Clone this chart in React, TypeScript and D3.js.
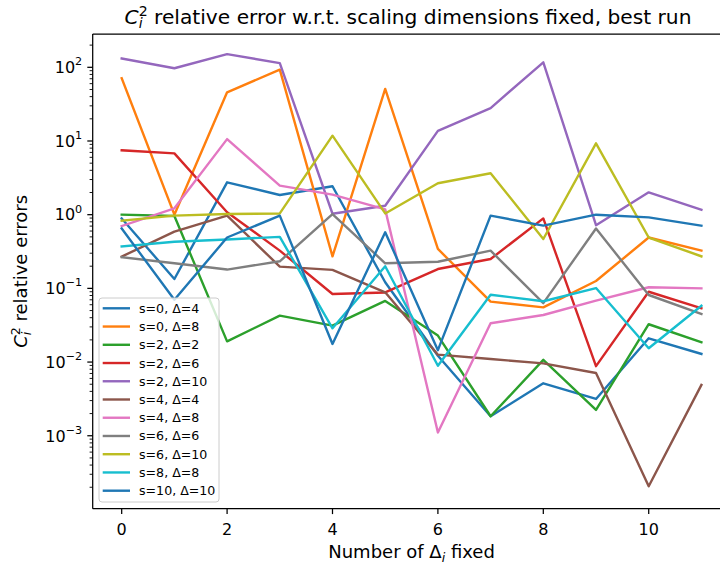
import React from 'react'
import * as d3 from 'd3'

// number of Delta_i fixed
const steps = [0, 1, 2, 3, 4, 5, 6, 7, 8, 9, 10, 11]

const seriesLabels = [
    's=0, Δ=4', 's=0, Δ=8', 's=2, Δ=2', 's=2, Δ=6', 's=2, Δ=10', 's=4, Δ=4',
    's=4, Δ=8', 's=6, Δ=6', 's=6, Δ=10', 's=8, Δ=8', 's=10, Δ=10',
]

const s0d4 = [0.89, 0.134, 2.75, 1.85, 2.43, 0.121, 0.0122, 0.00184, 0.00515, 0.00316, 0.021, 0.0129]
const s0d8 = [71, 1.0, 45.8, 93, 0.272, 50.8, 0.343, 0.066, 0.0553, 0.126, 0.49, 0.325]
const s2d2 = [1.0, 0.96, 0.0191, 0.0426, 0.0312, 0.0675, 0.0229, 0.00184, 0.0107, 0.00224, 0.0326, 0.0186]
const s2d6 = [7.48, 6.8, 1.08, 0.325, 0.084, 0.088, 0.183, 0.25, 0.89, 0.0088, 0.09, 0.0537]
const s2d10 = [132, 97, 151, 114, 1.03, 1.32, 13.7, 28, 117, 0.72, 2.01, 1.17]
const s4d4 = [0.27, 0.59, 0.97, 0.197, 0.178, 0.0885, 0.0126, 0.011, 0.0096, 0.0071, 0.000206, 0.0049]
const s4d8 = [0.7, 1.22, 10.6, 2.48, 1.87, 1.18, 0.00111, 0.0336, 0.0435, 0.068, 0.1035, 0.1]
const s6d6 = [0.264, 0.219, 0.18, 0.233, 1.02, 0.219, 0.23, 0.325, 0.063, 0.65, 0.0813, 0.045]
const s6d10 = [0.83, 0.97, 1.02, 1.04, 11.8, 1.04, 2.67, 3.65, 0.468, 9.3, 0.49, 0.272]
const s8d8 = [0.372, 0.43, 0.46, 0.5, 0.0287, 0.2, 0.0089, 0.082, 0.0668, 0.101, 0.0154, 0.058]
const s10d10 = [0.65, 0.07, 0.49, 0.97, 0.0176, 0.577, 0.0145, 0.97, 0.71, 1.0, 0.92, 0.71]

const seriesValues = [s0d4, s0d8, s2d2, s2d6, s2d10, s4d4, s4d8, s6d6, s6d10, s8d8, s10d10]

const xTicks = [0, 2, 4, 6, 8, 10]
const yTickExps = [-3, -2, -1, 0, 1, 2]

const colors = d3.schemeCategory10

const W = 720
const H = 570
const margin = { left: 92.7, top: 34, right: 730.4, bottom: 508.7 }
const FONT = 'DejaVu Sans, sans-serif'

export default function App() {
    const x = d3.scaleLinear().domain([-0.55, 11.55]).range([margin.left, margin.right])
    const y = d3.scaleLog().domain([10 ** -3.99, 10 ** 2.452]).range([margin.bottom, margin.top])

    const line = d3
        .line<number>()
        .x((_, i) => x(steps[i]))
        .y(d => y(d))

    // minor ticks on the log axis
    const [y0, y1] = y.domain()
    const minor: number[] = []
    for (let k = -5; k <= 3; k++) {
        for (let j = 2; j <= 9; j++) {
            const v = j * 10 ** k
            if (v >= y0 && v <= y1) minor.push(v)
        }
    }

    const legendRowY = (i: number) => 308.3 + i * 18.24

    return (
        <svg width={W} height={H} style={{ position: 'absolute', left: 0, top: 0, background: '#fff' }} fontFamily={FONT}>
            <defs>
                <clipPath id="plot">
                    <rect x={margin.left} y={margin.top} width={margin.right - margin.left} height={margin.bottom - margin.top} />
                </clipPath>
            </defs>
            <rect width={W} height={H} fill="#fff" />

            {/* series */}
            <g clipPath="url(#plot)" fill="none" strokeWidth={2.4} strokeLinejoin="round" strokeLinecap="square">
                {seriesValues.map((vals, i) => (
                    <path key={i} d={line(vals) ?? ''} stroke={colors[i % 10]} />
                ))}
            </g>

            {/* spines */}
            <g stroke="#000" strokeWidth={1.25} fill="none">
                <line x1={margin.left} x2={margin.left} y1={margin.top} y2={margin.bottom} />
                <line x1={margin.left} x2={margin.right} y1={margin.bottom} y2={margin.bottom} />
                <line x1={margin.left} x2={margin.right} y1={margin.top} y2={margin.top} />
                <line x1={margin.right} x2={margin.right} y1={margin.top} y2={margin.bottom} />
            </g>

            {/* x ticks */}
            <g>
                {xTicks.map(t => (
                    <g key={t} transform={`translate(${x(t)},${margin.bottom})`}>
                        <line y2={5.4} stroke="#000" strokeWidth={1.25} />
                        <text y={26} textAnchor="middle" fontSize={16} fill="#000">{t}</text>
                    </g>
                ))}
            </g>

            {/* y ticks */}
            <g>
                {minor.map(v => (
                    <line key={v} x1={margin.left} x2={margin.left - 3.1} y1={y(v)} y2={y(v)} stroke="#000" strokeWidth={0.9} />
                ))}
                {yTickExps.map(e => (
                    <g key={e} transform={`translate(${margin.left},${y(10 ** e)})`}>
                        <line x2={-5.4} stroke="#000" strokeWidth={1.25} />
                        <text x={-10.5} y={5.8} textAnchor="end" fontSize={16} fill="#000">
                            10<tspan fontSize={11.2} dy={-7.7}>{e < 0 ? `−${-e}` : e}</tspan>
                        </text>
                    </g>
                ))}
            </g>

            {/* axis labels */}
            <text x={(margin.left + margin.right) / 2} y={558} textAnchor="middle" fontSize={18} fill="#000">
                Number of Δ<tspan fontSize={12.6} fontStyle="italic" dy={4}>i</tspan>
                <tspan dy={-4}> fixed</tspan>
            </text>
            <text transform={`translate(27,${(margin.top + margin.bottom) / 2}) rotate(-90)`} textAnchor="middle" fontSize={18} fill="#000">
                <tspan fontStyle="italic">C</tspan>
                <tspan fontSize={12.6} fontStyle="italic" dy={4}>i</tspan>
                <tspan fontSize={12.6} dx={-3.5} dy={-11}>2</tspan>
                <tspan dy={7}> relative errors</tspan>
            </text>

            {/* title */}
            <text x={408} y={24} textAnchor="middle" fontSize={20.2} fill="#000">
                <tspan fontStyle="italic">C</tspan>
                <tspan fontSize={14.1} fontStyle="italic" dy={4.4}>i</tspan>
                <tspan fontSize={14.1} dx={-3.9} dy={-12.4}>2</tspan>
                <tspan dy={8}> relative error w.r.t. scaling dimensions fixed, best run</tspan>
            </text>

            {/* legend */}
            <g>
                <rect x={99} y={298} width={120} height={204} rx={3} fill="#fff" fillOpacity={0.8} stroke="#cccccc" strokeWidth={1} />
                {seriesLabels.map((lab, i) => (
                    <g key={lab} transform={`translate(0,${legendRowY(i)})`}>
                        <line x1={102.7} x2={130} stroke={colors[i % 10]} strokeWidth={2.4} />
                        <text x={139} y={4.5} fontSize={12.6} fill="#000">{lab}</text>
                    </g>
                ))}
            </g>
        </svg>
    )
}
